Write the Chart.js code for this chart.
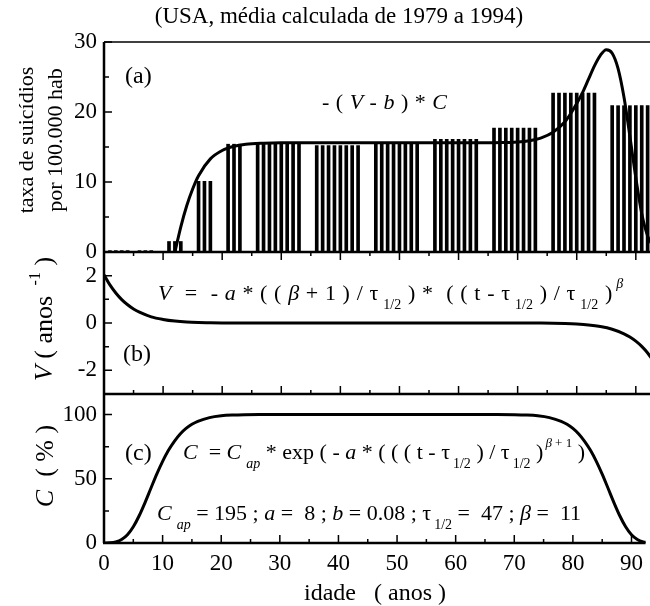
<!DOCTYPE html>
<html>
<head>
<meta charset="utf-8">
<script src="https://cdn.jsdelivr.net/npm/chart.js@4.4.1/dist/chart.umd.min.js"></script>
<style>
  body { margin: 0; background: #fff; }
  #wrap { position: relative; width: 650px; height: 606px; background: #fff; font-family: 'Liberation Serif', serif; color: #000; overflow: hidden; }
  canvas { position: absolute; left: 0; top: 0; }
  .t { position: absolute; white-space: nowrap; line-height: 1; transform: translateY(-50%); }
  .c { transform: translate(-50%, -50%); }
  .r { position: absolute; white-space: nowrap; transform: translate(-50%, -50%) rotate(-90deg); text-align: center; }
  sub, sup { font-size: 14px; line-height: 0; font-style: normal; }
  sub { vertical-align: -9px; margin-left: 5px; }
  sup { vertical-align: 12px; margin-left: 4px; }
</style>
</head>
<body>
<div id="wrap">
  <canvas id="chA" width="650" height="606"></canvas>
  <canvas id="chB" width="650" height="606"></canvas>
  <canvas id="chC" width="650" height="606"></canvas>

  <div class="t c" style="left:339px;top:15px;font-size:23px">(USA, média calculada de 1979 a 1994)</div>
  <div class="r" style="left:40px;top:140px;font-size:22px;line-height:29px">taxa de suicídios<br>por 100.000 hab</div>
  <div class="r" style="left:44px;top:319px;font-size:26px"><i>V</i> ( anos <sup style="font-size:16px">-1</sup> )</div>
  <div class="r" style="left:45px;top:466px;font-size:26px"><i>C</i> &nbsp;( % )</div>
  <div class="t c" style="left:375px;top:592px;font-size:24px">idade &nbsp; ( anos )</div>

  <div class="t" style="left:125px;top:75px;font-size:24px">(a)</div>
  <div class="t" style="left:123px;top:353px;font-size:24px">(b)</div>
  <div class="t" style="left:125px;top:452px;font-size:24px">(c)</div>

  <div class="t" style="left:322px;top:102px;font-size:22px;word-spacing:1px">- ( <i>V</i> - <i>b</i> ) * <i>C</i></div>
  <div class="t" style="left:158px;top:293px;font-size:22px;word-spacing:1.2px"><i>V</i> &nbsp;= &nbsp;- <i>a</i> * ( ( <i>β</i> + 1 ) / τ<sub>1/2</sub> ) * &nbsp;( ( t - τ<sub>1/2</sub> ) / τ<sub>1/2</sub> )<sup><i>β</i></sup></div>
  <div class="t" style="left:183px;top:452px;font-size:22px"><i>C</i> &nbsp;= <i>C</i><sub><i>ap</i></sub> * exp ( - <i>a</i> * ( ( ( t - τ<sub style="margin-left:3px">1/2</sub> ) / τ<sub style="margin-left:3px">1/2</sub> )<sup style="font-size:13px;margin-left:2px"><i>β</i> + 1</sup> )</div>
  <div class="t" style="left:157px;top:513px;font-size:22px"><i>C</i><sub><i>ap</i></sub> = 195 ; <i>a</i> = &nbsp;8 ; <i>b</i> = 0.08 ; τ<sub style="margin-left:3px">1/2</sub> = &nbsp;47 ; <i>β</i> = &nbsp;11</div>
</div>

<script>
// ---- data ----
const barAges = [1, 2, 3, 4, 6, 7, 8, 11, 12, 13, 16, 17, 18, 21, 22, 23,
  26, 27, 28, 29, 30, 31, 32, 33, 36, 37, 38, 39, 40, 41, 42, 43,
  46, 47, 48, 49, 50, 51, 52, 53, 56, 57, 58, 59, 60, 61, 62, 63,
  66, 67, 68, 69, 70, 71, 72, 73, 76, 77, 78, 79, 80, 81, 82, 83,
  86, 87, 88, 89, 90, 91, 92];
const barRates = [0.2, 0.2, 0.2, 0.2, 0.2, 0.2, 0.2, 1.5, 1.5, 1.5, 10.1, 10.1, 10.1, 15.4, 15.4, 15.4,
  15.5, 15.5, 15.5, 15.5, 15.5, 15.5, 15.5, 15.5, 15.2, 15.2, 15.2, 15.2, 15.2, 15.2, 15.2, 15.2,
  15.6, 15.6, 15.6, 15.6, 15.6, 15.6, 15.6, 15.6, 16.1, 16.1, 16.1, 16.1, 16.1, 16.1, 16.1, 16.1,
  17.7, 17.7, 17.7, 17.7, 17.7, 17.7, 17.7, 17.7, 22.7, 22.7, 22.7, 22.7, 22.7, 22.7, 22.7, 22.7,
  20.9, 20.9, 20.9, 20.9, 20.9, 20.9, 20.9];

// curve (a): -(V - b) * C
const rateCurveAges = [12, 13, 14, 15, 16, 18, 20, 22, 24, 27, 30, 40, 50, 60, 65, 68, 70, 72, 74, 76, 78, 79, 80, 81, 82, 83, 84, 85, 86, 87, 88, 89, 90, 91, 92, 93];
const rateCurve = [0, 3.6, 6.6, 9.0, 10.9, 13.3, 14.5, 15.1, 15.4, 15.55, 15.6, 15.6, 15.6, 15.6, 15.6, 15.65, 15.7, 15.9, 16.3, 17.1, 18.6, 19.8, 21.2, 22.8, 24.7, 26.6, 28.1, 28.9, 28.4, 26.2, 22.1, 16.5, 10.6, 5.5, 2.3, 0.7];

// curve (b): V
const vAges = [0, 1, 2, 3, 4, 5, 6, 8, 10, 12, 14, 16, 18, 20, 25, 30, 40, 50, 60, 65, 70, 74, 76, 78, 80, 82, 84, 86, 88, 89, 90, 91, 92, 93];
const vValues = [2.04, 1.61, 1.27, 0.99, 0.77, 0.59, 0.46, 0.26, 0.15, 0.08, 0.04, 0.02, 0.01, 0.005, 0.001, 0, 0, 0, 0, 0, -0.001, -0.005, -0.01, -0.021, -0.042, -0.08, -0.147, -0.262, -0.455, -0.593, -0.768, -0.989, -1.266, -1.61];

// curve (c): C in %
const cAges = [0, 1, 2, 3, 4, 5, 6, 7, 8, 9, 10, 11, 12, 13, 14, 15, 16, 18, 20, 22, 24, 27, 30, 40, 50, 60, 67, 70, 72, 74, 76, 78, 79, 80, 81, 82, 83, 84, 85, 86, 87, 88, 89, 90, 91, 92, 93];
const cValues = [0.03, 0.2, 0.9, 2.7, 6.4, 12.6, 21.2, 31.5, 42.6, 53.6, 63.6, 72.2, 79.2, 84.9, 89.2, 92.4, 94.7, 97.6, 99.0, 99.6, 99.85, 99.97, 100, 100, 100, 100, 99.97, 99.85, 99.6, 99.0, 97.6, 94.7, 92.4, 89.2, 84.9, 79.2, 72.2, 63.6, 53.6, 42.6, 31.5, 21.2, 12.6, 6.4, 2.7, 0.9, 0.2];

// tick labels
const xTicks = [0, 10, 20, 30, 40, 50, 60, 70, 80, 90];
const xMinorTicks = [5, 15, 25, 35, 45, 55, 65, 75, 85];
const aTicks = [0, 10, 20, 30];
const aMinorTicks = [5, 15, 25];
const bTicks = [-2, 0, 2];
const bMinorTicks = [-1, 1];
const cTicks = [0, 50, 100];
const cMinorTicks = [25, 75];

const X_MAX = 92.4;

Chart.defaults.font.family = "'Liberation Serif', serif";
Chart.defaults.font.size = 23;
Chart.defaults.color = '#000';

function pts(xs, ys) {
  return xs.map((x, i) => ({ x: x, y: ys[i] }));
}

// frame and inward ticks
const frameTicks = {
  id: 'frameTicks',
  afterDraw(chart, args, o) {
    const ctx = chart.ctx, a = chart.chartArea;
    const xs = chart.scales.x, ys = chart.scales.y;
    ctx.save();
    ctx.strokeStyle = '#000';
    ctx.lineCap = 'butt';
    ctx.lineWidth = 2.5;
    ctx.beginPath();
    ctx.moveTo(a.left, a.top);
    ctx.lineTo(a.left, a.bottom);
    ctx.moveTo(a.left - 1, a.bottom);
    ctx.lineTo(a.right, a.bottom);
    ctx.stroke();
    if (o.top) {
      ctx.lineWidth = 1.5;
      ctx.beginPath();
      ctx.moveTo(a.left, a.top);
      ctx.lineTo(a.right, a.top);
      ctx.stroke();
    }
    ctx.lineWidth = 1.5;
    ctx.beginPath();
    o.yMajor.forEach(v => { const p = ys.getPixelForValue(v); ctx.moveTo(a.left, p); ctx.lineTo(a.left + 8, p); });
    o.yMinor.forEach(v => { const p = ys.getPixelForValue(v); ctx.moveTo(a.left, p); ctx.lineTo(a.left + 5, p); });
    if (o.xBottom) {
      xTicks.forEach(v => { const p = xs.getPixelForValue(v); ctx.moveTo(p, a.bottom); ctx.lineTo(p, a.bottom - 8); });
      xMinorTicks.forEach(v => { const p = xs.getPixelForValue(v); ctx.moveTo(p, a.bottom); ctx.lineTo(p, a.bottom - 4); });
    }
    if (o.xTop) {
      xTicks.forEach(v => { const p = xs.getPixelForValue(v); ctx.moveTo(p, a.top); ctx.lineTo(p, a.top + 8); });
      xMinorTicks.forEach(v => { const p = xs.getPixelForValue(v); ctx.moveTo(p, a.top); ctx.lineTo(p, a.top + 4); });
    }
    ctx.stroke();
    ctx.restore();
  }
};

function xAxis(show) {
  return {
    type: 'linear', min: 0, max: X_MAX, offset: false,
    display: show,
    grid: { display: false, drawTicks: false },
    border: { display: false },
    ticks: { padding: 7, maxRotation: 0 },
    afterBuildTicks: s => { s.ticks = xTicks.map(v => ({ value: v })); },
    afterFit: s => { if (show) s.height = 63; }
  };
}

function yAxis(min, max, labels) {
  return {
    type: 'linear', min: min, max: max,
    grid: { display: false, drawTicks: false },
    border: { display: false },
    ticks: { padding: 7 },
    afterBuildTicks: s => { s.ticks = labels.map(v => ({ value: v })); },
    afterFit: s => { s.width = 104; }
  };
}

const common = {
  responsive: false,
  animation: false,
  events: [],
  plugins: { legend: { display: false }, tooltip: { enabled: false } }
};

const lineStyle = {
  type: 'line', borderColor: '#000', borderWidth: 3, pointRadius: 0,
  fill: false, cubicInterpolationMode: 'monotone'
};

// (a) suicide rate bars and model curve
new Chart(document.getElementById('chA'), {
  type: 'bar',
  data: {
    datasets: [
      Object.assign({ data: pts(rateCurveAges, rateCurve), order: 0 }, lineStyle),
      { type: 'bar', data: pts(barAges, barRates), backgroundColor: '#000', barThickness: 3, order: 1 }
    ]
  },
  options: Object.assign({}, common, {
    layout: { padding: { top: 42, bottom: 606 - 252, left: 0, right: 0 } },
    scales: { x: xAxis(false), y: yAxis(0, 30, aTicks) },
    plugins: Object.assign({}, common.plugins, {
      frameTicks: { top: true, yMajor: aTicks, yMinor: aMinorTicks }
    })
  }),
  plugins: [frameTicks]
});

// (b) V
new Chart(document.getElementById('chB'), {
  type: 'line',
  data: { datasets: [Object.assign({ data: pts(vAges, vValues) }, lineStyle)] },
  options: Object.assign({}, common, {
    layout: { padding: { top: 252, bottom: 606 - 394, left: 0, right: 0 } },
    scales: { x: xAxis(false), y: yAxis(-3, 3, bTicks) },
    plugins: Object.assign({}, common.plugins, {
      frameTicks: { yMajor: bTicks, yMinor: bMinorTicks, xTop: true, xBottom: true }
    })
  }),
  plugins: [frameTicks]
});

// (c) C
new Chart(document.getElementById('chC'), {
  type: 'line',
  data: { datasets: [Object.assign({ data: pts(cAges, cValues) }, lineStyle)] },
  options: Object.assign({}, common, {
    layout: { padding: { top: 394, bottom: 0, left: 0, right: 0 } },
    scales: { x: xAxis(true), y: yAxis(0, 116, cTicks) },
    plugins: Object.assign({}, common.plugins, {
      frameTicks: { yMajor: cTicks, yMinor: cMinorTicks, xBottom: true }
    })
  }),
  plugins: [frameTicks]
});
</script>
</body>
</html>
